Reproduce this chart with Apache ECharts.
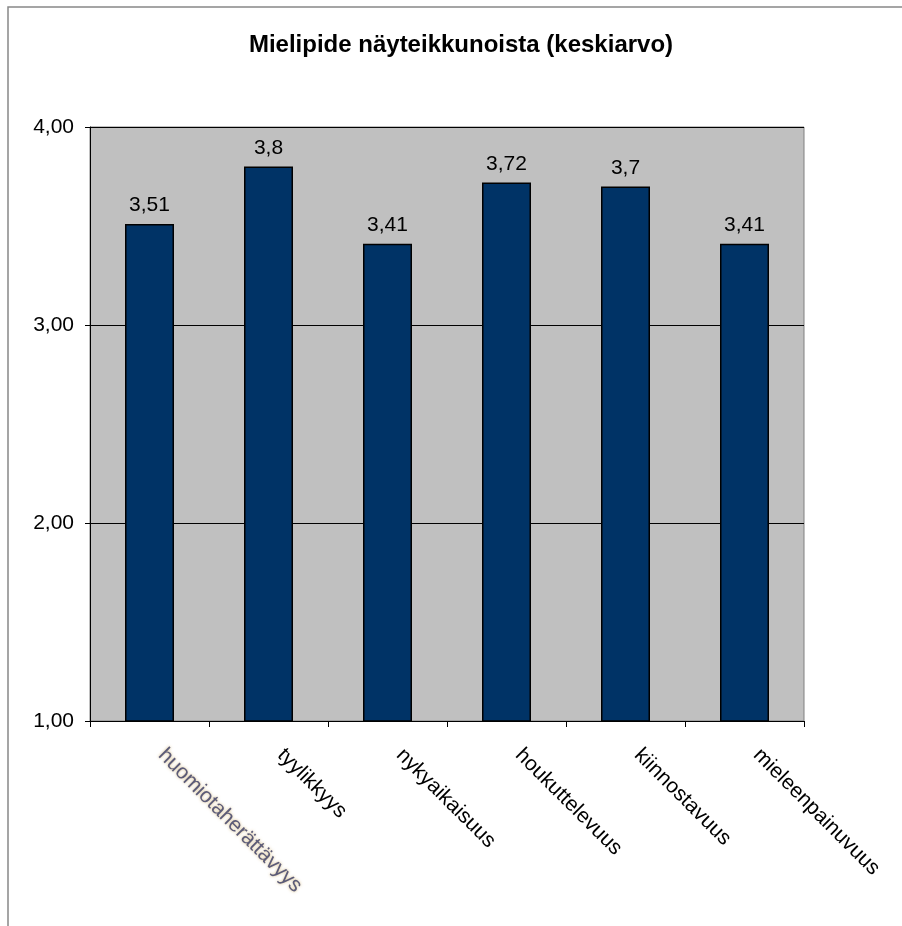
<!DOCTYPE html>
<html>
<head>
<meta charset="utf-8">
<script src="https://cdn.jsdelivr.net/npm/echarts@6/dist/echarts.min.js"></script>
<style>html,body{margin:0;padding:0;background:#fff}#c{width:902px;height:926px}</style>
</head>
<body>
<div id="c"></div>
<script>
const titleText = 'Mielipide näyteikkunoista (keskiarvo)';
const categories = ['huomiotaherättävyys', 'tyylikkyys', 'nykyaikaisuus', 'houkuttelevuus', 'kiinnostavuus', 'mieleenpainuvuus'];
const values = [3.51, 3.8, 3.41, 3.72, 3.7, 3.41];
const valueLabels = ['3,51', '3,8', '3,41', '3,72', '3,7', '3,41'];
const yMin = 1, yMax = 4, yInterval = 1;

const FONT = '"Liberation Sans", Arial, sans-serif';
const chart = echarts.init(document.getElementById('c'), null, {renderer: 'canvas'});
chart.setOption({
  animation: false,
  backgroundColor: '#ffffff',
  graphic: [
    {type: 'rect', shape: {x: 8, y: 7, width: 1200, height: 1200}, style: {fill: 'none', stroke: '#888888', lineWidth: 1.5}, z: 0},
    {type: 'text', x: 461, y: 45, style: {text: titleText, font: 'bold 24px ' + FONT, fill: '#000', align: 'center', verticalAlign: 'middle'}, z: 10}
  ],
  grid: {left: 90, top: 127, right: 98, bottom: 205, show: true, backgroundColor: '#c0c0c0', borderColor: '#808080', borderWidth: 1},
  xAxis: {
    type: 'category',
    data: categories,
    axisLine: {show: true, lineStyle: {color: '#000', width: 1}},
    axisTick: {show: true, alignWithLabel: false, length: 6, lineStyle: {color: '#000'}},
    axisLabel: {
      rotate: -45, margin: 19, fontSize: 21, fontFamily: FONT, color: '#000', interval: 0,
      padding: [0, 0, 0, 17],
      formatter: function (v, i) { return i === 0 ? '{b|' + v + '}' : v; },
      rich: {b: {fontSize: 21, fontFamily: FONT, color: '#5b5b78', textShadowColor: 'rgba(190,150,70,0.7)', textShadowBlur: 3}}
    },
    splitLine: {show: false}
  },
  yAxis: {
    type: 'value', min: yMin, max: yMax, interval: yInterval,
    axisLine: {show: true, lineStyle: {color: '#000', width: 1}},
    axisTick: {show: true, length: 5, lineStyle: {color: '#000'}},
    axisLabel: {fontSize: 21, fontFamily: FONT, color: '#000', margin: 16, formatter: function (v) { return v.toFixed(2).replace('.', ','); }},
    splitLine: {show: true, lineStyle: {color: '#000', width: 1}}
  },
  series: [{
    type: 'bar',
    data: values,
    barWidth: 49,
    itemStyle: {color: '#003366', borderColor: '#000', borderWidth: 1.5},
    label: {show: true, position: 'top', distance: 8, fontSize: 21, fontFamily: FONT, color: '#000',
      formatter: function (p) { return valueLabels[p.dataIndex]; }}
  }]
});
</script>
</body>
</html>
